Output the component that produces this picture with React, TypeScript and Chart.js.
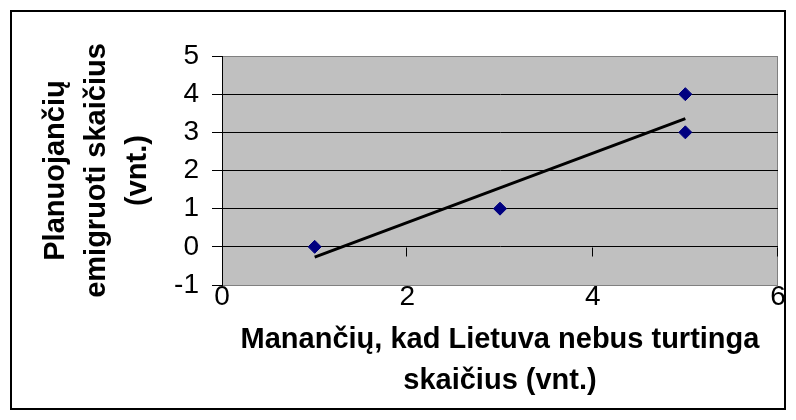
import React, { useEffect, useRef } from 'react';
import { Chart, registerables } from 'chart.js';

Chart.register(...registerables);

// ---- data ----
const xValues = [1, 3, 5, 5];
const yValues = [0, 1, 3, 4];
const trendX = [1, 5];
const trendY = [-0.27, 3.36];
const xTicks = [0, 2, 4, 6];
const yTicks = [-1, 0, 1, 2, 3, 4, 5];
const xTitle = ['Manančių, kad Lietuva nebus turtinga', 'skaičius (vnt.)'];
const yTitle = ['Planuojančių', 'emigruoti skaičius', '(vnt.)'];

const FONT = "'Liberation Sans', Arial, Helvetica, sans-serif";

const frame = {
  id: 'frame',
  beforeDraw(chart: any) {
    const { ctx, chartArea: a, width, height } = chart;
    ctx.save();
    ctx.fillStyle = '#ffffff';
    ctx.fillRect(0, 0, width, height);
    ctx.fillStyle = '#c0c0c0';
    ctx.fillRect(a.left, a.top, a.right - a.left, a.bottom - a.top);
    ctx.strokeStyle = '#808080';
    ctx.lineWidth = 1;
    ctx.strokeRect(a.left + 0.5, a.top + 0.5, a.right - a.left - 1, a.bottom - a.top);
    ctx.restore();
  },
  afterDraw(chart: any) {
    const { ctx, scales } = chart;
    const xs = scales.x;
    const ys = scales.y;
    const y0 = Math.round(ys.getPixelForValue(0)) + 0.5;
    ctx.save();
    ctx.strokeStyle = '#000000';
    ctx.lineWidth = 1;
    ctx.beginPath();
    xTicks.forEach((v) => {
      if (v === 0) return;
      const px = Math.round(xs.getPixelForValue(v)) - 0.5;
      ctx.moveTo(px, y0);
      ctx.lineTo(px, y0 + 9);
    });
    ctx.stroke();
    ctx.lineWidth = 2;
    ctx.strokeRect(11, 11, 774, 398);
    ctx.restore();
  },
};

export default function App() {
  const ref = useRef<HTMLCanvasElement | null>(null);

  useEffect(() => {
    document.body.style.margin = '0';
    const canvas = ref.current;
    if (!canvas) return;
    const chart = new Chart(canvas, {
      type: 'scatter',
      data: {
        datasets: [
          {
            type: 'line',
            label: 'trend',
            data: trendX.map((x, i) => ({ x, y: trendY[i] })),
            borderColor: '#000000',
            borderWidth: 3,
            pointRadius: 0,
            fill: false,
            order: 2,
          } as any,
          {
            label: 'data',
            data: xValues.map((x, i) => ({ x, y: yValues[i] })),
            pointStyle: 'rectRot',
            pointRadius: 6.5,
            backgroundColor: '#000080',
            borderColor: '#000080',
            borderWidth: 1,
            order: 1,
          },
        ],
      },
      options: {
        responsive: false,
        animation: false,
        devicePixelRatio: 1,
        layout: { padding: { left: 12, top: 56, right: 18, bottom: 12 } },
        plugins: { legend: { display: false }, tooltip: { enabled: false } },
        scales: {
          x: {
            type: 'linear',
            min: 0,
            max: 6,
            afterBuildTicks: (s: any) => {
              s.ticks = xTicks.map((v) => ({ value: v }));
            },
            afterFit: (s: any) => {
              s.height = 420 - 285 - 12;
            },
            ticks: {
              color: '#000000',
              font: { family: FONT, size: 28 },
              padding: -5,
              maxRotation: 0,
              autoSkip: false,
            },
            grid: { display: false, drawTicks: false },
            border: { display: false },
            title: {
              display: true,
              text: xTitle,
              color: '#000000',
              font: { family: FONT, size: 29, weight: 'bold', lineHeight: 1.4 },
              padding: { top: 0, bottom: 7 },
            },
          },
          y: {
            type: 'linear',
            min: -1,
            max: 5,
            afterBuildTicks: (s: any) => {
              s.ticks = yTicks.map((v) => ({ value: v }));
            },
            afterFit: (s: any) => {
              s.width = 222 - 12;
            },
            ticks: {
              color: '#000000',
              font: { family: FONT, size: 28 },
              padding: 13,
              autoSkip: false,
            },
            grid: {
              color: (c: any) =>
                c.tick && (c.tick.value === 5 || c.tick.value === -1) ? 'rgba(0,0,0,0)' : '#000000',
              tickColor: '#000000',
              tickLength: 10,
              lineWidth: 1,
            },
            border: { display: true, color: '#000000', width: 1 },
            title: {
              display: true,
              text: yTitle,
              color: '#000000',
              font: { family: FONT, size: 29, weight: 'bold', lineHeight: 1.4 },
              padding: { top: 24, bottom: 0 },
            },
          },
        },
      } as any,
      plugins: [frame],
    });
    return () => chart.destroy();
  }, []);

  return <canvas ref={ref} width={796} height={420} style={{ display: 'block' }} />;
}
